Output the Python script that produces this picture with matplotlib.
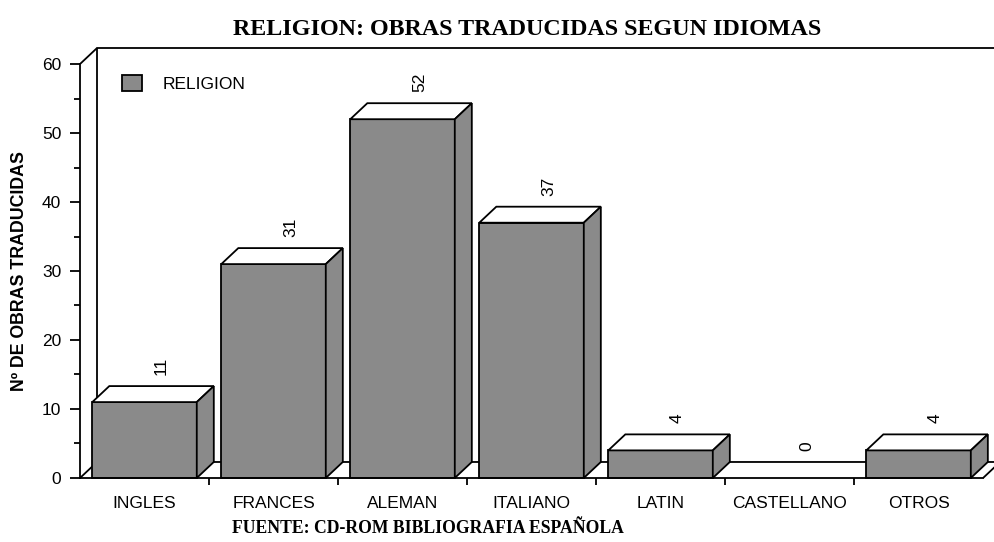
import matplotlib

matplotlib.use("Agg")
import matplotlib.pyplot as plt
from matplotlib.patches import Polygon, Rectangle
from matplotlib.ticker import MultipleLocator

CATEGORIES = ["INGLES", "FRANCES", "ALEMAN", "ITALIANO", "LATIN", "CASTELLANO", "OTROS"]
VALUES = [11, 31, 52, 37, 4, 0, 4]
SERIES_NAME = "RELIGION"
TITLE = "RELIGION: OBRAS TRADUCIDAS SEGUN IDIOMAS"
SOURCE = "FUENTE: CD-ROM BIBLIOGRAFIA ESPAÑOLA"
YLABEL = "Nº DE OBRAS TRADUCIDAS"

BAR_GRAY = "#8a8a8a"
LW = 1.3
DX, DY = 0.132, 2.32   # fake 3d depth, in data units
BAR_W = 0.81

plt.rcParams["font.family"] = ["Liberation Sans", "DejaVu Sans"]
SERIF = ["Liberation Serif", "DejaVu Serif"]

fig = plt.figure(figsize=(9.94, 5.42), dpi=100)
ax = fig.add_axes([0.0805, 0.1181, 0.9085, 0.7638])
n = len(CATEGORIES)
ax.set_xlim(0, n)
ax.set_ylim(0, 60)

for side in ("top", "right"):
    ax.spines[side].set_visible(False)
for side in ("left", "bottom"):
    ax.spines[side].set_linewidth(LW)
    ax.spines[side].set_zorder(5)

# walls and floor
wall = dict(color="black", lw=LW, clip_on=False, zorder=1, solid_capstyle="butt")
ax.plot([0, DX], [60, 60 + DY], **wall)
ax.plot([DX, DX, n + DX], [DY, 60 + DY, 60 + DY], **wall)
ax.plot([0, DX, n + DX], [0, DY, DY], **wall)
ax.plot([n, n + DX], [0, DY], **wall)

# bars: front, top and side faces
for i, v in enumerate(VALUES):
    x0 = i + (1 - BAR_W) / 2
    x1 = x0 + BAR_W
    if v > 0:
        ax.add_patch(Rectangle((x0, 0), BAR_W, v, fc=BAR_GRAY, ec="black",
                               lw=LW, zorder=3, clip_on=False))
        ax.add_patch(Polygon([(x0, v), (x1, v), (x1 + DX, v + DY), (x0 + DX, v + DY)],
                             closed=True, fc="white", ec="black", lw=LW, zorder=3,
                             clip_on=False))
        ax.add_patch(Polygon([(x1, 0), (x1 + DX, DY), (x1 + DX, v + DY), (x1, v)],
                             closed=True, fc=BAR_GRAY, ec="black", lw=LW, zorder=3,
                             clip_on=False))
    ax.annotate(str(v), (i + 0.5 + DX, v + DY), xytext=(0, 8),
                textcoords="offset points", rotation=90, ha="center", va="bottom",
                fontsize=12.5, annotation_clip=False)

# ticks
ax.yaxis.set_major_locator(MultipleLocator(10))
ax.yaxis.set_minor_locator(MultipleLocator(5))
ax.tick_params(axis="y", which="major", length=7, width=LW, labelsize=12.5, pad=6.5)
ax.tick_params(axis="y", which="minor", length=4, width=LW)
ax.set_xticks([i + 0.5 for i in range(n)])
ax.set_xticklabels(CATEGORIES)
ax.set_xticks(range(1, n), minor=True)
ax.tick_params(axis="x", which="major", length=0, labelsize=12.5, pad=13)
ax.tick_params(axis="x", which="minor", length=5, width=LW)

ax.set_ylabel(YLABEL, fontsize=12.8, fontweight="bold", labelpad=10)

# legend
leg_handle = Rectangle((0, 0), 1, 1, fc=BAR_GRAY, ec="black", lw=LW)
ax.legend([leg_handle], [SERIES_NAME], loc="upper left",
          bbox_to_anchor=(0.0295, 1.012), frameon=False, fontsize=12.5,
          handlelength=1.15, handleheight=1.1, handletextpad=1.15)

fig.text(0.53, 0.945, TITLE, ha="center", va="center", fontsize=17.3,
         fontweight="bold", family=SERIF)
fig.text(0.431, 0.024, SOURCE, ha="center", va="center", fontsize=12.7,
         fontweight="bold", family=SERIF)

fig.savefig("out.png", dpi=100)
